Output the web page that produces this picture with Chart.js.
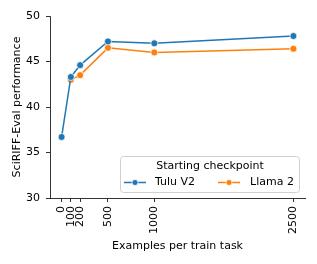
<!DOCTYPE html>
<html><head><meta charset="utf-8">
<script src="https://cdn.jsdelivr.net/npm/chart.js@4"></script>
<style>html,body{margin:0;padding:0;background:#fff}#w{width:317px;height:264px}</style>
</head><body><div id="w"><canvas id="c" width="317" height="264"></canvas></div>
<script>
const xValues = [0, 100, 200, 500, 1000, 2500];
const tuluV2 = [36.7, 43.3, 44.6, 47.2, 47.0, 47.8];
const llama2 = [null, 43.0, 43.5, 46.5, 46.0, 46.4];
const seriesNames = ['Tulu V2', 'Llama 2'];
const legendTitle = 'Starting checkpoint';
const yTicks = [30, 35, 40, 45, 50];
const FONT = 'DejaVu Sans';
const FS = 11;
const colors = ['#1f77b4', '#ff7f0e'];

const mk = (vals) => xValues.map((x, i) => vals[i] == null ? null : {x, y: vals[i]}).filter(p => p);

const legendPlugin = {
  id: 'boxLegend',
  afterDraw(chart) {
    const ctx = chart.ctx;
    const x0 = 120.5, y0 = 156.5, w = 179, h = 36;
    ctx.save();
    ctx.beginPath();
    if (ctx.roundRect) ctx.roundRect(x0, y0, w, h, 3); else ctx.rect(x0, y0, w, h);
    ctx.fillStyle = 'rgba(255,255,255,0.8)';
    ctx.fill();
    ctx.strokeStyle = '#d0d0d0';
    ctx.lineWidth = 1;
    ctx.stroke();
    ctx.fillStyle = '#000';
    ctx.font = FS + 'px "' + FONT + '"';
    ctx.textBaseline = 'middle';
    ctx.textAlign = 'center';
    ctx.fillText(legendTitle, x0 + w / 2, 166.5);
    ctx.textAlign = 'left';
    const items = [{lx: 124, tx: 155}, {lx: 218, tx: 250}];
    items.forEach((it, i) => {
      const yy = 182.5;
      ctx.strokeStyle = colors[i];
      ctx.lineWidth = 1.5;
      ctx.beginPath(); ctx.moveTo(it.lx, yy); ctx.lineTo(it.lx + 22, yy); ctx.stroke();
      ctx.beginPath(); ctx.arc(it.lx + 11, yy, 3, 0, Math.PI * 2);
      ctx.fillStyle = colors[i]; ctx.fill();
      ctx.strokeStyle = '#fff'; ctx.lineWidth = 0.75; ctx.stroke();
      ctx.fillStyle = '#000';
      ctx.fillText(seriesNames[i], it.tx, yy);
    });
    ctx.restore();
  }
};

new Chart(document.getElementById('c'), {
  type: 'line',
  data: {
    datasets: [tuluV2, llama2].map((vals, i) => ({
      label: seriesNames[i],
      data: mk(vals),
      borderColor: colors[i],
      backgroundColor: colors[i],
      pointBackgroundColor: colors[i],
      pointBorderColor: '#fff',
      pointBorderWidth: 0.75,
      pointRadius: 3.5,
      borderWidth: 1.5,
      tension: 0
    }))
  },
  options: {
    responsive: false,
    animation: false,
    devicePixelRatio: 1,
    layout: {padding: {top: 16, right: 12, left: 0, bottom: 0}},
    plugins: {legend: {display: false}, tooltip: {enabled: false}},
    scales: {
      x: {
        type: 'linear',
        min: -125, max: 2625,
        afterBuildTicks: (s) => { s.ticks = xValues.map(v => ({value: v})); },
        afterFit: (s) => { s.height = 66; },
        grid: {drawOnChartArea: false, drawTicks: true, tickLength: 4, color: '#000', tickWidth: 0.8},
        border: {display: true, color: '#000', width: 0.8},
        ticks: {autoSkip: false, maxRotation: 90, minRotation: 90, color: '#000', padding: 4,
                font: {family: FONT, size: FS}, callback: (v) => String(v)},
        title: {display: true, text: 'Examples per train task', color: '#000',
                font: {family: FONT, size: FS}, padding: {top: 4, bottom: 11}}
      },
      y: {
        min: 30, max: 50,
        afterBuildTicks: (s) => { s.ticks = yTicks.map(v => ({value: v})); },
        afterFit: (s) => { s.width = 50; },
        grid: {drawOnChartArea: false, drawTicks: true, tickLength: 4, color: '#000', tickWidth: 0.8},
        border: {display: true, color: '#000', width: 0.8},
        ticks: {color: '#000', padding: 6, font: {family: FONT, size: FS}},
        title: {display: true, text: 'SciRIFF-Eval performance', color: '#000',
                font: {family: FONT, size: FS}, padding: {top: 11, bottom: 2}}
      }
    }
  },
  plugins: [legendPlugin]
});
</script>
</body></html>
